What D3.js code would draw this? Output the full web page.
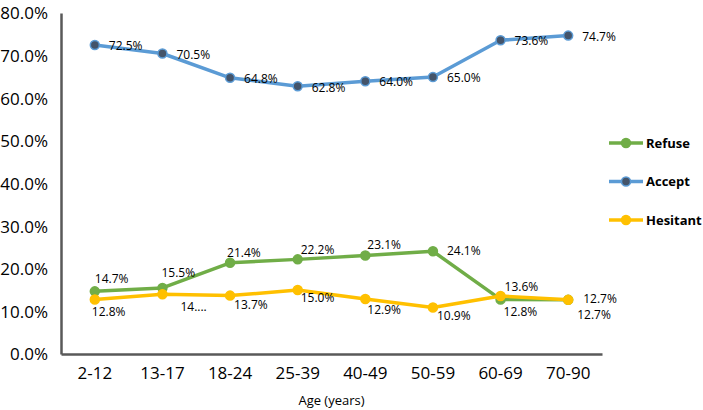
<!DOCTYPE html>
<html>
<head>
<meta charset="utf-8">
<script src="https://cdn.jsdelivr.net/npm/d3@7"></script>
<style>
  body { margin: 0; background: #fff; }
  svg { display: block; font-family: "Open Sans", sans-serif; }
</style>
</head>
<body>
<div id="vis"></div>
<script>
const width = 703;
const height = 410;

// data
const ages = ['2-12', '13-17', '18-24', '25-39', '40-49', '50-59', '60-69', '70-90'];
const refuse = [14.7, 15.5, 21.4, 22.2, 23.1, 24.1, 12.8, 12.7];
const accept = [72.5, 70.5, 64.8, 62.8, 64.0, 65.0, 73.6, 74.7];
const hesitant = [12.8, 14.0, 13.7, 15.0, 12.9, 10.9, 13.6, 12.7];
const hesitantLabels = ['12.8%', '14....', '13.7%', '15.0%', '12.9%', '10.9%', '13.6%', '12.7%'];
const yTicks = [0, 10, 20, 30, 40, 50, 60, 70, 80];

// label offsets from each point (text start, vertical centre)
const refuseOff = [[0, -13], [-1, -15], [-3, -9.5], [3, -9.5], [2, -10.7], [14, 0], [3, 12.4], [9, 15]];
const acceptOff = ages.map(() => [14, 1]);
const hesitantOff = [[-3, 12], [18, 12.7], [4, 9.3], [3, 7.6], [2, 10.7], [4, 8], [4, -9.3], [15, -1.5]];

const series = [
  {name: 'Refuse', values: refuse, color: '#70AD47', marker: '#70AD47', off: refuseOff},
  {name: 'Accept', values: accept, color: '#5B9BD5', marker: '#44546A', off: acceptOff},
  {name: 'Hesitant', values: hesitant, color: '#FFC000', marker: '#FFC000', off: hesitantOff, labels: hesitantLabels}
];

const plotLeft = 61, plotRight = 602, plotTop = 13, plotBottom = 354;

const x = d3.scaleBand().domain(ages).range([plotLeft, plotRight]);
const y = d3.scaleLinear().domain([0, 80]).range([plotBottom, plotTop]);

const svg = d3.select('#vis')
    .append('svg')
    .attr('width', width)
    .attr('height', height);

// y axis
const yAxis = svg.append('g')
    .attr('transform', `translate(${plotLeft},0)`)
    .call(d3.axisLeft(y).tickValues(yTicks).tickSize(0).tickPadding(13)
        .tickFormat(d => d.toFixed(1) + '%'));
yAxis.select('.domain').attr('stroke', '#595959').attr('stroke-width', 2.5);
yAxis.selectAll('text')
    .attr('font-family', '"Open Sans", sans-serif')
    .attr('font-size', 17)
    .attr('fill', '#000')
    .attr('dy', '0.35em');

// x axis
const xAxis = svg.append('g')
    .attr('transform', `translate(0,${plotBottom})`)
    .call(d3.axisBottom(x).tickSize(0).tickSizeOuter(0));
xAxis.select('.domain').attr('stroke', '#595959').attr('stroke-width', 2.5);
xAxis.selectAll('text')
    .attr('font-family', '"Open Sans", sans-serif')
    .attr('font-size', 17)
    .attr('fill', '#000')
    .attr('y', 19.5)
    .attr('dy', '0.35em');

svg.append('text')
    .attr('x', (plotLeft + plotRight) / 2)
    .attr('y', 400)
    .attr('dy', '0.35em')
    .attr('text-anchor', 'middle')
    .attr('font-size', 13)
    .text('Age (years)');

const line = d3.line()
    .x((d, i) => x(ages[i]) + x.bandwidth() / 2)
    .y(d => y(d));

series.forEach(s => {
  const g = svg.append('g');
  g.append('path')
      .datum(s.values)
      .attr('d', line)
      .attr('fill', 'none')
      .attr('stroke', s.color)
      .attr('stroke-width', 3.5)
      .attr('stroke-linejoin', 'round');
  g.selectAll('circle')
      .data(s.values)
      .join('circle')
      .attr('cx', (d, i) => x(ages[i]) + x.bandwidth() / 2)
      .attr('cy', d => y(d))
      .attr('r', 4.5)
      .attr('fill', s.marker)
      .attr('stroke', s.color)
      .attr('stroke-width', 1.5);
});

// data labels on top
series.forEach(s => {
  svg.append('g').selectAll('text')
      .data(s.values)
      .join('text')
      .attr('x', (d, i) => x(ages[i]) + x.bandwidth() / 2 + s.off[i][0])
      .attr('y', (d, i) => y(d) + s.off[i][1])
      .attr('dy', '0.35em')
      .attr('font-size', 12)
      .attr('fill', '#000')
      .text((d, i) => s.labels ? s.labels[i] : d.toFixed(1) + '%');
});

// legend
const legend = svg.append('g');
series.forEach((s, i) => {
  const ly = 143 + i * 38.5;
  legend.append('line')
      .attr('x1', 609).attr('x2', 643)
      .attr('y1', ly).attr('y2', ly)
      .attr('stroke', s.color)
      .attr('stroke-width', 3.5);
  legend.append('circle')
      .attr('cx', 626).attr('cy', ly).attr('r', 4.5)
      .attr('fill', s.marker)
      .attr('stroke', s.color)
      .attr('stroke-width', 1.5);
  legend.append('text')
      .attr('x', 646).attr('y', ly)
      .attr('dy', '0.35em')
      .attr('font-size', 13)
      .attr('font-weight', 'bold')
      .text(s.name);
});
</script>
</body>
</html>
